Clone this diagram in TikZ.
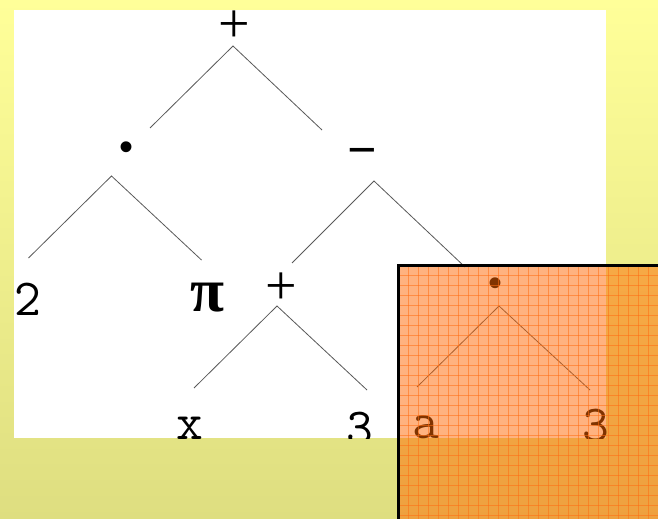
\documentclass[tikz,border=0pt]{standalone}
\usepackage{fontspec}
\newfontfamily\opfont{Liberation Serif}
\newfontfamily\dotfont{Liberation Sans}
\definecolor{bgtop}{RGB}{255,255,153}
\definecolor{bgbot}{RGB}{222,222,128}
\definecolor{orangeov}{RGB}{255,102,0}
\definecolor{gridc}{RGB}{255,110,20}
\begin{document}
\begin{tikzpicture}[x=1bp,y=-1bp,
  edge/.style={draw=black!65, line width=0.8bp},
  leaf/.style={inner sep=0pt, anchor=north, font=\fontsize{52bp}{60bp}\ttfamily\selectfont},
  opsym/.style={inner sep=0pt, anchor=center, font=\fontsize{56bp}{64bp}\opfont\selectfont},
  minsym/.style={inner sep=0pt, anchor=center, font=\fontsize{52bp}{64bp}\opfont\bfseries\selectfont},
  dotsym/.style={inner sep=0pt, anchor=center, font=\fontsize{40bp}{48bp}\dotfont\selectfont},
  pisym/.style={inner sep=0pt, anchor=north, font=\fontsize{62bp}{70bp}\opfont\bfseries\selectfont}]
\useasboundingbox (0,0) rectangle (658,519);
\clip (0,0) rectangle (658,519);
\shade[top color=bgtop, bottom color=bgbot] (0,0) rectangle (658,519);
\fill[white] (14,10) rectangle (606,438);
% operators
\node[opsym] (plus1) at (234.5,27) {+};
\begin{scope}
\clip (14,10) rectangle (606,438);
\node[dotsym] (dot1) at (127,151.5) {•};
\node[minsym] (minus1) at (362,158) {−};
\node[opsym] (plus2) at (281,289) {+};
\node[dotsym] (dot2) at (495,287) {•};
% leaves
\node[leaf] (two) at (27.5,283) {2};
\node[pisym] (pi) at (207.5,283) {π};
\node[leaf] (xx) at (190,417) {x};
\node[leaf] (three1) at (360,412) {3};
\node[leaf] (aa) at (426,415) {a};
\node[leaf] (three2) at (596,409) {3};
% edge coordinates
\coordinate (a1) at (233,46);   \coordinate (a1l) at (150,128); \coordinate (a1r) at (322,130);
\coordinate (a2) at (111.5,176); \coordinate (a2l) at (28.5,258); \coordinate (a2r) at (201.5,260);
\coordinate (a3) at (374,181);  \coordinate (a3l) at (292,263); \coordinate (a3r) at (465,267);
\coordinate (a4) at (277,306);  \coordinate (a4l) at (194,388); \coordinate (a4r) at (367,390);
\coordinate (a5) at (499,306);  \coordinate (a5l) at (417,387); \coordinate (a5r) at (590,390);
\draw[edge] (a1l) -- (a1) -- (a1r);
\draw[edge] (a2l) -- (a2) -- (a2r);
\draw[edge] (a3l) -- (a3) -- (a3r);
\draw[edge] (a4l) -- (a4) -- (a4r);
\draw[edge] (a5l) -- (a5) -- (a5r);
\end{scope}
% orange overlay box
\begin{scope}
\clip (398.5,265.5) rectangle (658,519);
\fill[orangeov, opacity=0.5] (398.5,265.5) rectangle (658,519);
\foreach \gx in {408.5,418.5,...,658} {\draw[gridc, opacity=0.55, line width=0.8bp] (\gx,265) -- (\gx,519);}
\foreach \gy in {275.5,285.5,...,519} {\draw[gridc, opacity=0.55, line width=0.8bp] (398,\gy) -- (658,\gy);}
\end{scope}
\draw[line width=3bp, line cap=rect] (398.5,521) -- (398.5,265.5) -- (660,265.5);
\end{tikzpicture}
\end{document}
